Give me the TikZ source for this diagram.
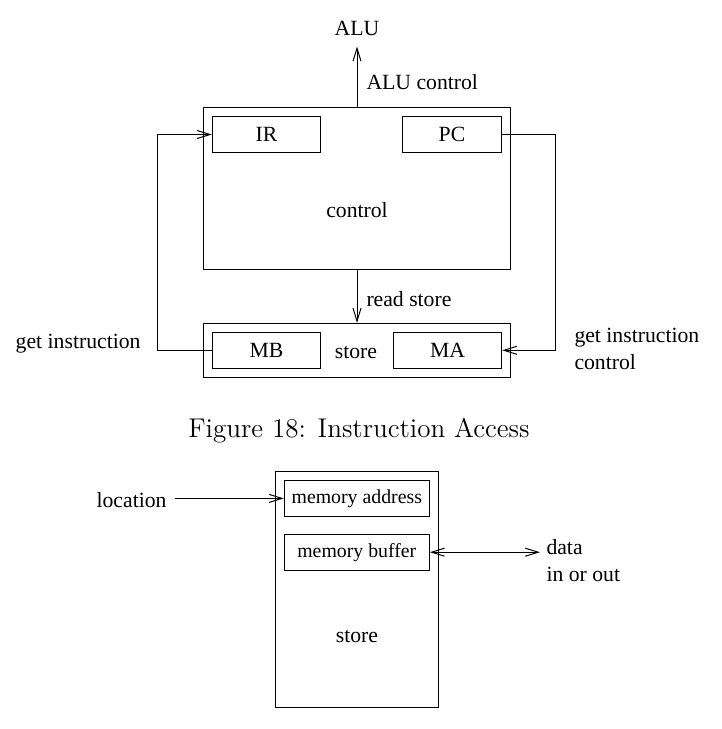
\documentclass[tikz,border=0pt]{standalone}
\usepackage{fontspec}
\setmainfont{Liberation Serif}
\newfontfamily\capfont{Latin Modern Roman}
\usetikzlibrary{arrows.meta}

\begin{document}
\begin{tikzpicture}[x=0.5pt,y=-0.5pt,line width=0.5pt,>={Straight Barb[length=6.5pt,width=4pt]}]
    \tikzset{box/.style={draw,inner sep=0pt},
        txt/.style={font=\fontsize{10.85}{13.5}\selectfont,inner sep=0pt},
        smalltxt/.style={font=\fontsize{9.9}{12}\selectfont,inner sep=0pt}};
    \useasboundingbox (0,0) rectangle (722,729);
    % upper figure
    \node[box,minimum width=153.7pt,minimum height=80.85pt] (ctrl) at (357,188.2) {};
    \node[txt] (ctrltxt) at (357,210) {control};
    \node[box,txt,minimum width=54.2pt,minimum height=17.8pt] (ir) at (266.5,134.5) {IR};
    \node[box,txt,minimum width=49.7pt,minimum height=17.8pt] (pc) at (452,134.5) {PC};
    \node[txt] (alu) at (357,28) {ALU};
    \coordinate (alutip) at (357,46.5);
    \draw[->] (ctrl.north) -- (alutip);
    \node[txt,anchor=west] (aluctl) at (366,82) {ALU control};
    \node[box,minimum width=153.7pt,minimum height=26.85pt] (store) at (357,350.2) {};
    \node[box,txt,minimum width=54.2pt,minimum height=18pt] (mb) at (266.5,350.3) {MB};
    \node[box,txt,minimum width=54.2pt,minimum height=18pt] (ma) at (447.5,350.3) {MA};
    \node[txt] (storetxt) at (356,352) {store};
    \draw[->] (ctrl.south) -- (store.north);
    \node[txt,anchor=west] (readst) at (366,299) {read store};
    \draw[->] (mb.west) -- ++(-54,0) |- (ir.west);
    \draw[->] (pc.east) -- ++(53.3,0) |- (ma.east);
    \node[txt,anchor=east] (getins) at (141,344) {get instruction};
    \node[txt,anchor=west,align=left] (getctl) at (574,348.5) {get instruction\\control};
    \node[font=\capfont\fontsize{13.55}{16}\selectfont,inner sep=0pt] (cap) at (359,431) {Figure 18: Instruction Access};
    % lower figure
    \node[box,minimum width=81.3pt,minimum height=117.65pt] (mem) at (357,589.35) {};
    \node[box,smalltxt,minimum width=72.5pt,minimum height=17.65pt] (maddr) at (356.8,498.4) {memory address};
    \node[box,smalltxt,minimum width=72.5pt,minimum height=17.85pt] (mbuf) at (356.8,552.2) {memory buffer};
    \node[txt] (memtxt) at (357,636) {store};
    \node[txt,anchor=east] (loc) at (167,500) {location};
    \coordinate (locstart) at (175,498.4);
    \draw[->] (locstart) -- (maddr.west);
    \coordinate (dataend) at (540,552.2);
    \draw[<->] (mbuf.east) -- (dataend);
    \node[txt,anchor=west,align=left] (data) at (546,560.5) {data\\in or out};
\end{tikzpicture}
\end{document}
